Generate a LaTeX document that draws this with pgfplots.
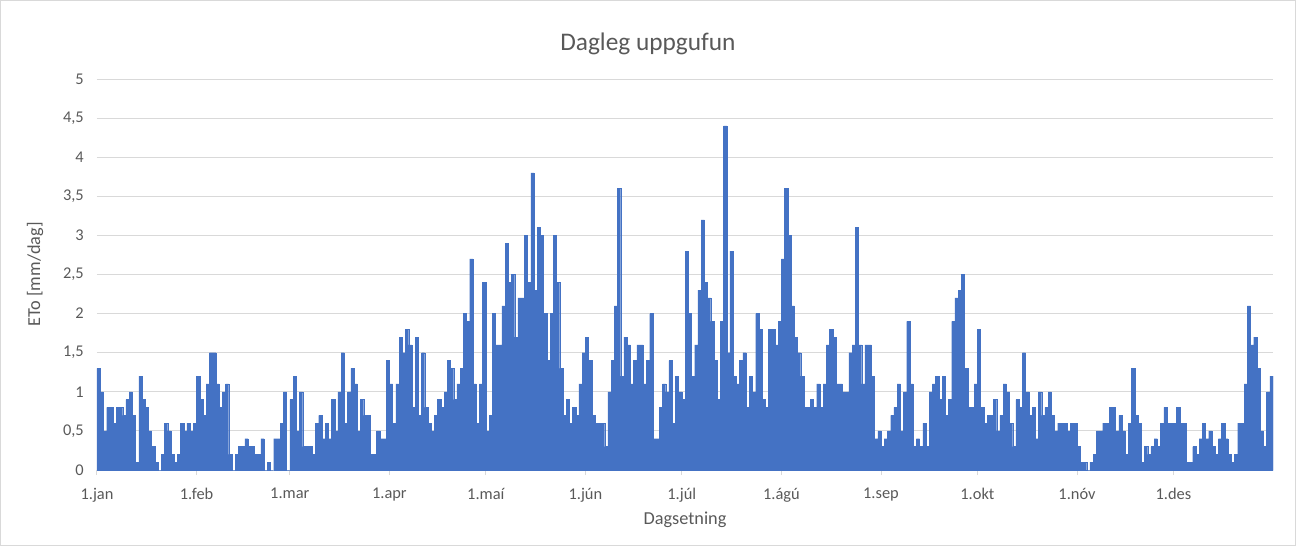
\documentclass[border=0pt]{standalone}
\usepackage{pgfplots}
\pgfplotsset{compat=1.18}
\usepackage{fontspec}
\setmainfont{Carlito}
\definecolor{barblue}{HTML}{4472C4}
\definecolor{txtgray}{HTML}{595959}
\definecolor{gridgray}{HTML}{D9D9D9}
\begin{document}
\begin{tikzpicture}
\useasboundingbox (-72.75pt,-57pt) rectangle (899.25pt,352.5pt);
\draw[gridgray, line width=0.75pt] (-72.375pt,-56.625pt) rectangle (898.875pt,352.125pt);
\begin{axis}[
  at={(0pt,0pt)}, anchor=south west,
  scale only axis, width=882pt, height=293.25pt,
  xmin=0, xmax=366, ymin=0, ymax=5,
  axis x line*=bottom, axis y line*=left,
  y axis line style={draw=none},
  x axis line style={gridgray, line width=0.75pt},
  ytick={0,0.5,1,1.5,2,2.5,3,3.5,4,4.5,5},
  ymajorgrids, grid style={gridgray, line width=0.75pt},
  ytick style={draw=none},
  xtick={0,31,60,91,121,152,182,213,244,274,305,335},
  xticklabels={1.jan,1.feb,1.mar,1.apr,1.maí,1.jún,1.júl,1.ágú,1.sep,1.okt,1.nóv,1.des},
  xtick style={gridgray, line width=0.75pt},
  tick align=outside, major tick length=3.75pt,
  ticklabel style={font=\fontsize{12.3}{14}\selectfont, text=txtgray},
  yticklabel style={anchor=east, inner sep=0pt, xshift=-6pt},
  xticklabel style={yshift=-6.5pt},
  /pgf/number format/use comma,
  /pgf/number format/assume math mode=true,
  title={Dagleg uppgufun},
  title style={at={(axis description cs:0.4685,1.069)}, anchor=center, font=\fontsize{19}{22}\selectfont, text=txtgray},
  xlabel={Dagsetning},
  xlabel style={at={(axis description cs:0.5,-0.1279)}, anchor=center, font=\fontsize{13.7}{16}\selectfont, text=txtgray},
  ylabel={ETo [mm/dag]},
  ylabel style={at={(axis description cs:-0.0527,0.5)}, anchor=center, font=\fontsize{13.7}{16}\selectfont, text=txtgray},
  ybar, bar width=1, bar shift=0pt,
]
\addplot[fill=barblue, draw=barblue, line width=0.2pt] table[row sep=\\, header=false, x expr=\coordindex+0.5, y index=0] {
1.3\\1.0\\0.5\\0.8\\0.8\\0.6\\0.8\\0.8\\0.7\\0.9\\1.0\\0.7\\0.1\\1.2\\0.9\\0.8\\0.5\\0.3\\0.1\\0\\0.2\\0.6\\0.5\\0.2\\0.1\\0.2\\0.6\\0.5\\0.6\\0.5\\0.6\\
1.2\\0.9\\0.7\\1.1\\1.5\\1.5\\1.1\\0.8\\1.0\\1.1\\0.2\\0\\0.2\\0.3\\0.3\\0.4\\0.3\\0.3\\0.2\\0.2\\0.4\\0\\0.1\\0\\0.4\\0.4\\0.6\\1.0\\0\\
0.9\\1.2\\0.5\\1.0\\0.3\\0.3\\0.3\\0.2\\0.6\\0.7\\0.4\\0.6\\0.4\\0.9\\0.5\\1.0\\1.5\\0.6\\1.0\\1.3\\1.1\\0.5\\0.9\\0.7\\0.7\\0.2\\0.2\\0.5\\0.4\\0.4\\1.4\\
1.1\\0.6\\1.1\\1.7\\1.5\\1.8\\1.6\\0.8\\1.7\\0.7\\1.5\\0.8\\0.6\\0.5\\0.7\\0.9\\0.8\\1.0\\1.4\\1.3\\0.9\\1.1\\1.3\\2.0\\1.9\\2.7\\1.1\\0.6\\1.1\\2.4\\
0.5\\0.7\\2.0\\1.6\\1.6\\2.1\\2.9\\2.4\\2.5\\1.7\\2.2\\2.2\\3.0\\2.4\\3.8\\2.3\\3.1\\3.0\\2.0\\1.4\\2.0\\3.0\\2.4\\1.3\\0.7\\0.9\\0.6\\0.8\\0.7\\1.1\\1.5\\
1.7\\1.4\\0.7\\0.6\\0.6\\0.6\\0.3\\1.0\\1.4\\2.1\\3.6\\1.2\\1.7\\1.6\\1.1\\1.4\\1.6\\1.6\\1.1\\1.4\\2.0\\0.4\\0.4\\0.8\\1.1\\1.0\\1.4\\0.6\\1.2\\1.0\\
0.9\\2.8\\2.0\\1.2\\1.6\\2.3\\3.2\\2.4\\2.2\\1.9\\1.4\\0.9\\1.9\\4.4\\1.5\\2.8\\1.2\\1.1\\1.4\\1.5\\0.8\\1.2\\1.0\\2.0\\1.8\\0.9\\0.8\\1.8\\1.8\\1.6\\1.9\\
2.7\\3.6\\3.0\\2.1\\1.7\\1.5\\1.2\\0.8\\0.8\\0.9\\0.8\\1.1\\0.8\\1.1\\1.6\\1.8\\1.7\\1.1\\1.1\\1.0\\1.0\\1.5\\1.6\\3.1\\1.6\\1.1\\1.6\\1.6\\1.2\\0.4\\0.5\\
0.3\\0.4\\0.5\\0.7\\0.8\\1.1\\0.5\\1.0\\1.9\\1.1\\0.3\\0.4\\0.3\\0.6\\0.3\\1.0\\1.1\\1.2\\0.9\\1.2\\0.7\\0.9\\1.9\\2.2\\2.3\\2.5\\1.3\\0.8\\0.8\\1.1\\
1.8\\0.8\\0.6\\0.7\\0.7\\0.9\\0.5\\0.7\\1.1\\1.0\\0.6\\0.3\\0.9\\0.8\\1.5\\1.0\\0.7\\0.8\\0.4\\1.0\\0.7\\0.8\\1.0\\0.7\\0.5\\0.6\\0.6\\0.6\\0.5\\0.6\\0.6\\
0.3\\0.1\\0.1\\0\\0.1\\0.2\\0.5\\0.5\\0.6\\0.6\\0.8\\0.8\\0.5\\0.7\\0.5\\0.2\\0.6\\1.3\\0.7\\0.6\\0.1\\0.3\\0.2\\0.3\\0.4\\0.3\\0.6\\0.8\\0.6\\0.6\\
0.6\\0.8\\0.6\\0.6\\0.1\\0.1\\0.3\\0.2\\0.4\\0.6\\0.4\\0.5\\0.3\\0.2\\0.4\\0.6\\0.4\\0.2\\0.1\\0.2\\0.6\\0.6\\1.1\\2.1\\1.6\\1.7\\1.3\\0.5\\0.3\\1.0\\1.2\\
};
\end{axis}
\end{tikzpicture}
\end{document}
